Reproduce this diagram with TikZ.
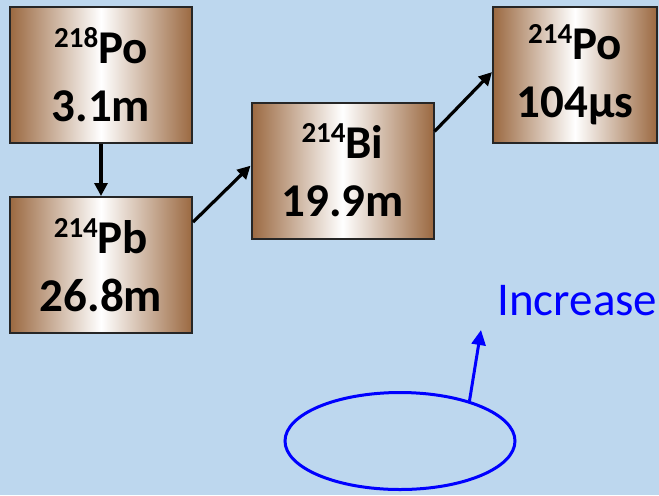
\documentclass[tikz,border=0pt]{standalone}
\usepackage{fontspec}
\setmainfont{Carlito}
\usetikzlibrary{shapes.geometric,arrows.meta,calc}

\definecolor{bgblue}{RGB}{189,215,238}
\definecolor{rust}{RGB}{155,105,65}

% mass number raised in front of the element symbol
\newcommand{\iso}[2]{\raisebox{8pt}{\fontsize{14.5}{14.5}\selectfont #1}#2}

\begin{document}
\begin{tikzpicture}[x=0.5pt, y=-0.5pt,
  nuc/.style={rectangle, draw=black!85, line width=1pt,
              left color=rust, right color=rust, middle color=white,
              minimum width=91pt, minimum height=68pt, inner sep=0pt,
              align=center, font=\bfseries\fontsize{23.5}{29}\selectfont},
  arr/.style={-{Triangle[length=6.5pt,width=6.5pt]}, line width=1.6pt},
  bluearr/.style={draw=blue, line width=1.5pt},
]

%% background
\path[use as bounding box, fill=bgblue] (0,0) rectangle (659,495);

%% decay chain
\node[nuc] (po218) at (101,75)    {\iso{218}{Po}\\3.1m};
\node[nuc] (pb214) at (101,265)   {\iso{214}{Pb}\\26.8m};
\node[nuc] (bi214) at (342.5,170.5) {\iso{214}{Bi}\\19.9m};
\node[nuc, minimum width=82pt] (po214) at (575,75) {\iso{214}{Po}\\104µs};

\draw[arr] (po218) -- (pb214);
\draw[arr] (pb214.25) -- (bi214.177);
\draw[arr] (bi214.23) -- (po214.178);

%% annotation
\node[ellipse, draw=blue, line width=1.5pt, minimum width=115pt,
      minimum height=48.5pt] (loop) at (400,441) {};
\coordinate (tip) at (481,330);
\draw[bluearr, -{Triangle[length=7.5pt,width=7pt]}] (loop.30) -- (tip);
\node[anchor=base west, inner sep=0pt, text=blue,
      font=\fontsize{23.5}{28}\selectfont] (incr) at (497,315) {Increase};

\end{tikzpicture}
\end{document}
